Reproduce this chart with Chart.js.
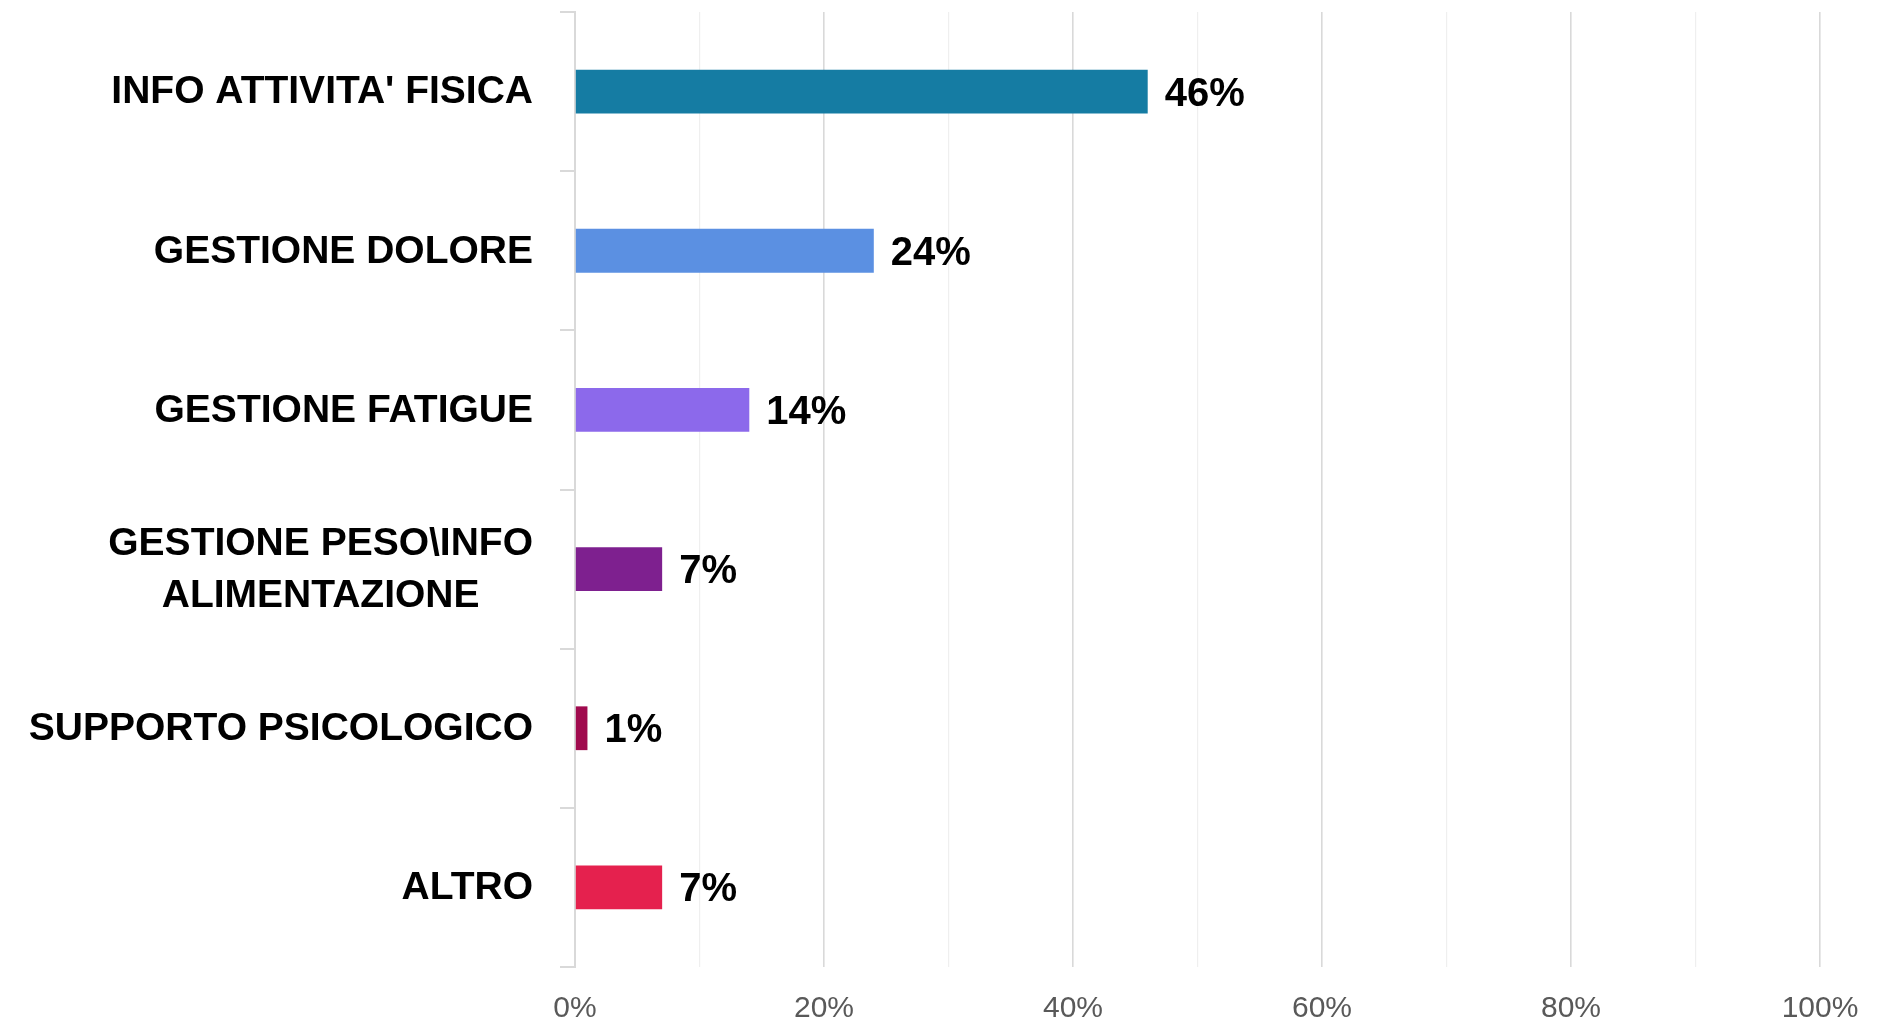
<!DOCTYPE html>
<html>
<head>
<meta charset="utf-8">
<script src="https://cdn.jsdelivr.net/npm/chart.js@4/dist/chart.umd.min.js"></script>
<style>
  html, body { margin: 0; padding: 0; background: #ffffff; }
  #wrap { width: 1877px; height: 1025px; position: relative; }
</style>
</head>
<body>
<div id="wrap"><canvas id="c" width="1877" height="1025"></canvas></div>
<script>
const categories = [
  ["INFO ATTIVITA' FISICA"],
  ["GESTIONE DOLORE"],
  ["GESTIONE FATIGUE"],
  ["GESTIONE PESO\\INFO", "ALIMENTAZIONE"],
  ["SUPPORTO PSICOLOGICO"],
  ["ALTRO"]
];
const values = [46, 24, 14, 7, 1, 7];
const barColors = ["#157CA3", "#5B90E2", "#8C69EB", "#7E208F", "#A00A4E", "#E5214E"];
const xTickLabels = ["0%", "20%", "40%", "60%", "80%", "100%"];

const LABEL_FONT = "bold 39px 'Liberation Sans', Arial, sans-serif";
const VALUE_FONT = "bold 40px 'Liberation Sans', Arial, sans-serif";

const labelsPlugin = {
  id: 'customLabels',
  afterDatasetsDraw(chart) {
    const ctx = chart.ctx;
    const yScale = chart.scales.y;
    const meta = chart.getDatasetMeta(0);
    ctx.save();
    ctx.font = LABEL_FONT;
    ctx.fillStyle = "#000000";
    ctx.textAlign = "center";
    ctx.textBaseline = "middle";
    const rightX = chart.chartArea.left - 42;
    const lineH = 52;
    categories.forEach((lines, i) => {
      const cy = yScale.getPixelForValue(i);
      const maxW = Math.max(...lines.map(l => ctx.measureText(l).width));
      const cx = rightX - maxW / 2;
      const startY = cy - (lines.length - 1) * lineH / 2;
      lines.forEach((l, j) => ctx.fillText(l, cx, startY + j * lineH + 1));
    });
    ctx.font = VALUE_FONT;
    ctx.textAlign = "left";
    meta.data.forEach((bar, i) => {
      ctx.fillText(values[i] + "%", bar.x + 17, bar.y + 3);
    });
    ctx.restore();
  }
};

new Chart(document.getElementById('c'), {
  type: 'bar',
  data: {
    labels: categories.map(l => l.join(' ')),
    datasets: [{
      data: values,
      backgroundColor: barColors,
      borderWidth: 0,
      barPercentage: 0.55,
      categoryPercentage: 0.5
    }]
  },
  options: {
    indexAxis: 'y',
    responsive: false,
    animation: false,
    layout: { padding: { top: 12, right: 57, left: 0, bottom: 0 } },
    plugins: {
      legend: { display: false },
      tooltip: { enabled: false }
    },
    scales: {
      x: {
        min: 0,
        max: 100,
        afterFit: s => { s.height = 58; s.paddingLeft = 0; s.paddingRight = 0; },
        ticks: {
          stepSize: 10,
          padding: 24,
          color: "#595959",
          font: { family: "'Liberation Sans', Arial, sans-serif", size: 30 },
          maxRotation: 0,
          autoSkip: false,
          callback: v => (v % 20 === 0 ? xTickLabels[v / 20] : '')
        },
        grid: {
          drawTicks: false,
          color: c => (c.tick && c.tick.value % 20 === 0) ? '#d9d9d9' : '#efefef',
          lineWidth: c => (c.tick && c.tick.value % 20 === 0) ? 1.6 : 1.2
        },
        border: { display: false }
      },
      y: {
        afterFit: s => { s.width = 575; s.paddingTop = 0; s.paddingBottom = 0; },
        ticks: { display: false },
        grid: {
          drawOnChartArea: false,
          drawTicks: true,
          tickLength: 15,
          color: '#d9d9d9',
          lineWidth: 2
        },
        border: { display: true, color: '#d9d9d9', width: 2 }
      }
    }
  },
  plugins: [labelsPlugin]
});
</script>
</body>
</html>
